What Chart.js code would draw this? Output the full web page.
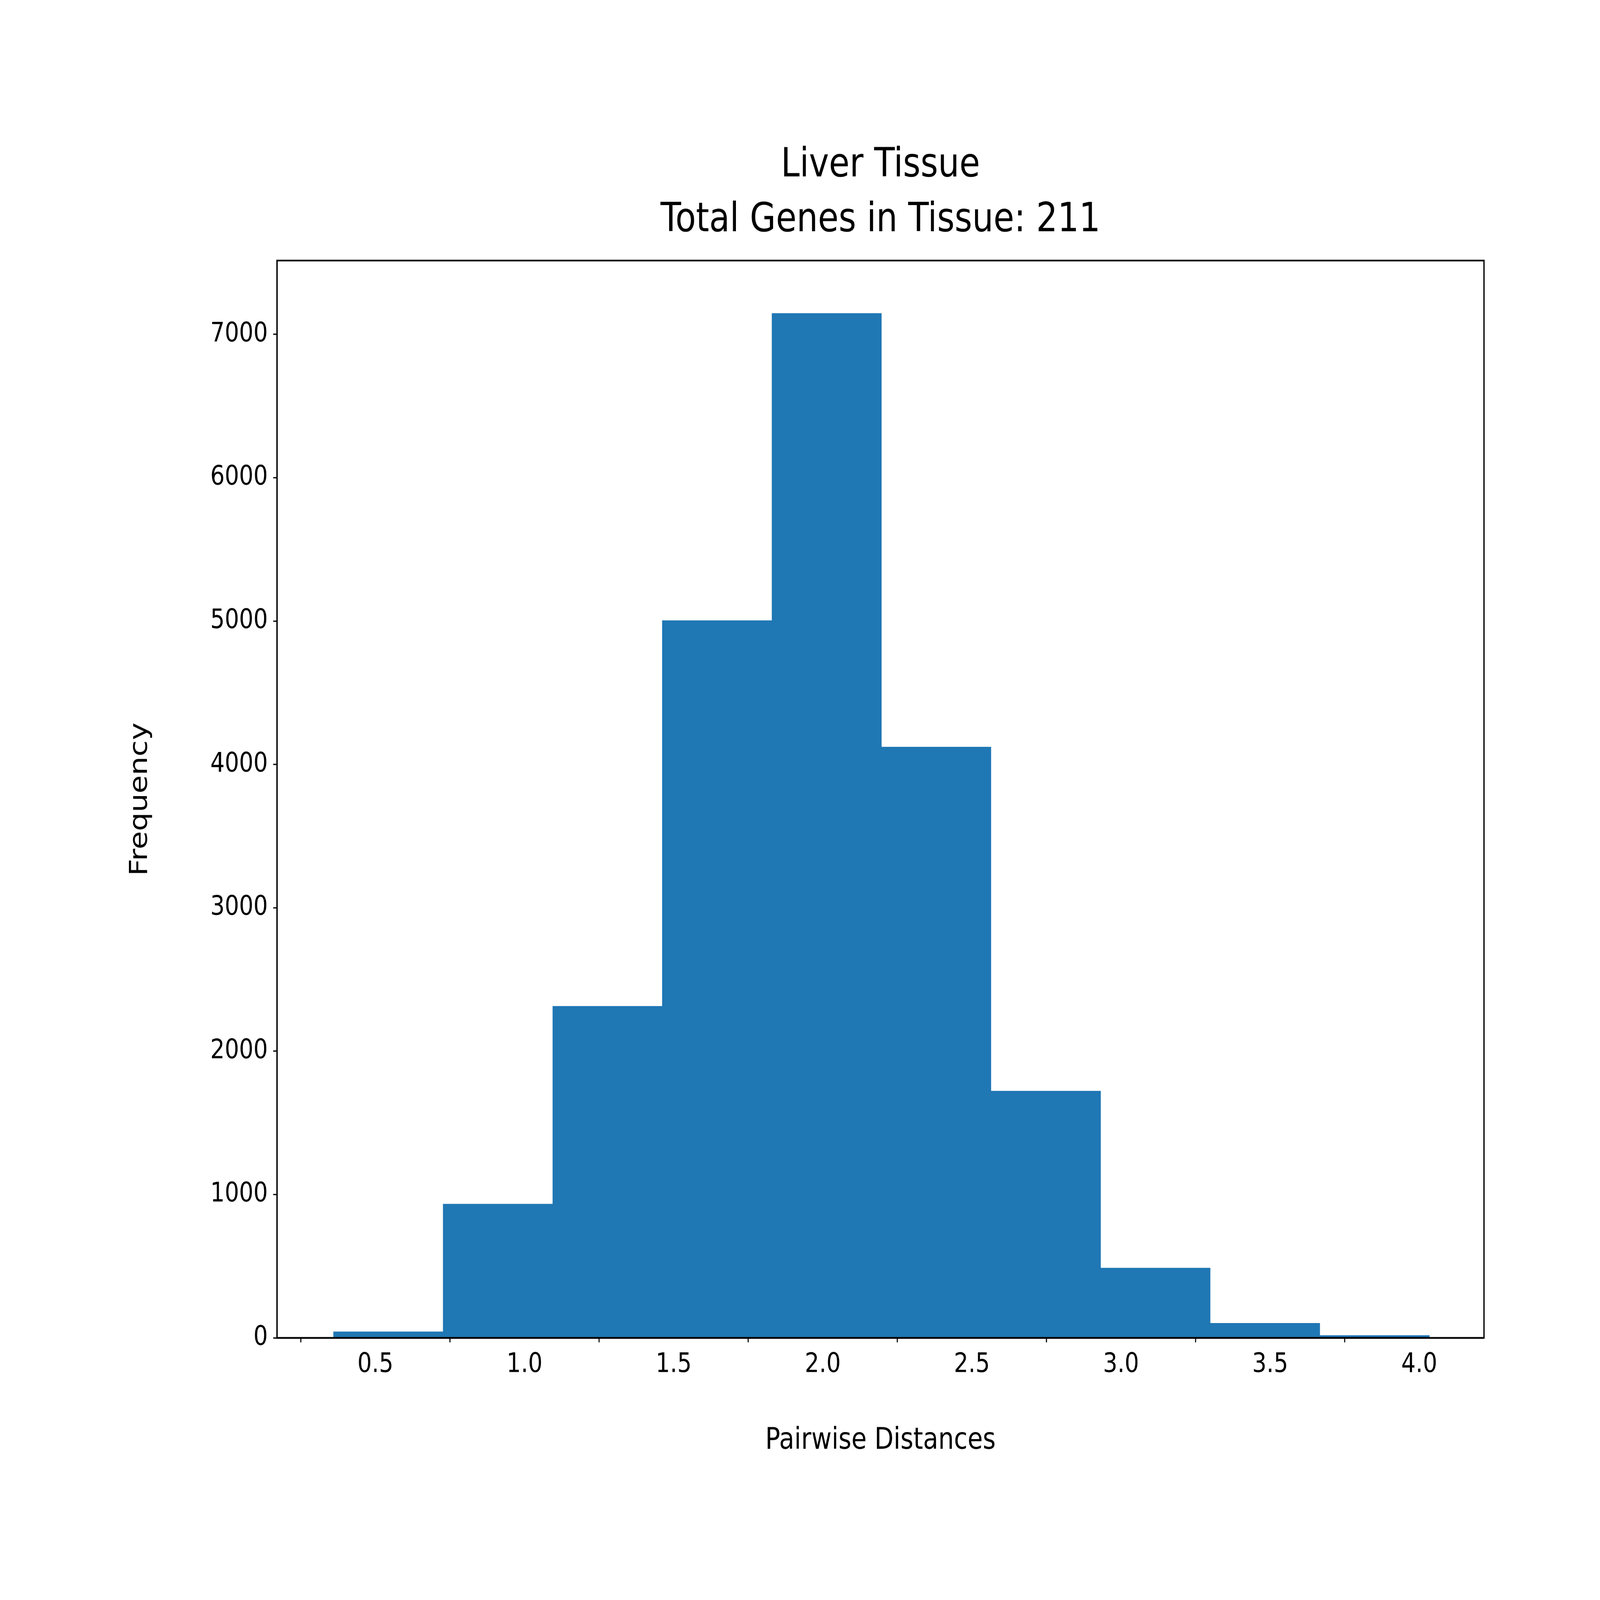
<!DOCTYPE html>
<html><head><meta charset="utf-8">
<script src="https://cdn.jsdelivr.net/npm/chart.js@4"></script>
<style>html,body{margin:0;padding:0;background:#fff;overflow:hidden}
#c{width:100vw !important;height:100vh !important;display:block}</style>
</head><body>
<canvas id="c" width="5944" height="4962" style="width:100vw;height:100vh"></canvas>
<script>
const binEdges = [0.359,0.727,1.094,1.462,1.829,2.197,2.564,2.932,3.299,3.667,4.034];
const frequencies = [43,934,2314,5004,7147,4122,1722,488,103,17];
const xTickLabels = [0.5,1.0,1.5,2.0,2.5,3.0,3.5,4.0];
const yTickLabels = [0,1000,2000,3000,4000,5000,6000,7000];
const titleLines = ["Liver Tissue","Total Genes in Tissue: 211"];

const pts = frequencies.map((v,i)=>({x:(binEdges[i]+binEdges[i+1])/2,y:v}));
const F = "DejaVu Sans";
const textPlugin = {
  id:'txt',
  afterDraw(ch){
    const c=ch.ctx, a=ch.chartArea;
    c.save();
    c.strokeStyle='#000'; c.lineWidth=5;
    c.strokeRect(a.left,a.top,a.right-a.left,a.bottom-a.top);
    c.fillStyle='#000'; c.textAlign='center'; c.textBaseline='middle';
    c.font='125px "'+F+'"';
    c.fillText(titleLines[0],(a.left+a.right)/2,515);
    c.fillText(titleLines[1],(a.left+a.right)/2,685);
    c.font='92px "'+F+'"';
    c.fillText('Pairwise Distances',(a.left+a.right)/2,4469);
    c.translate(522,(a.top+a.bottom)/2); c.rotate(-Math.PI/2);
    c.fillText('Frequency',0,0);
    c.restore();
  }
};
new Chart(document.getElementById('c'),{
  type:'bar',
  data:{datasets:[{data:pts,backgroundColor:'#1f77b4',barPercentage:1,categoryPercentage:1,borderWidth:0}]},
  options:{
    responsive:false,animation:false,devicePixelRatio:1,
    layout:{padding:{left:0,top:808,right:431,bottom:0}},
    plugins:{legend:{display:false},tooltip:{enabled:false}},
    scales:{
      x:{type:'linear',min:0.17,max:4.217,offset:false,
        afterBuildTicks(s){s.ticks=xTickLabels.map(v=>({value:v}));},
        afterFit(s){s.height=813;},
        ticks:{callback:v=>v.toFixed(1),font:{family:F,size:84},color:'#000',padding:20,maxRotation:0},
        grid:{drawOnChartArea:false,tickLength:14,tickWidth:4,color:'#000'},
        border:{color:'#000',width:5}},
      y:{min:0,max:7515,
        afterBuildTicks(s){s.ticks=yTickLabels.map(v=>({value:v}));},
        afterFit(s){s.width=1029;},
        ticks:{callback:v=>String(v),font:{family:F,size:84},color:'#000',padding:20},
        grid:{drawOnChartArea:false,tickLength:14,tickWidth:4,color:'#000'},
        border:{color:'#000',width:5}}
    }
  },
  plugins:[textPlugin]
});
</script>
</body></html>
